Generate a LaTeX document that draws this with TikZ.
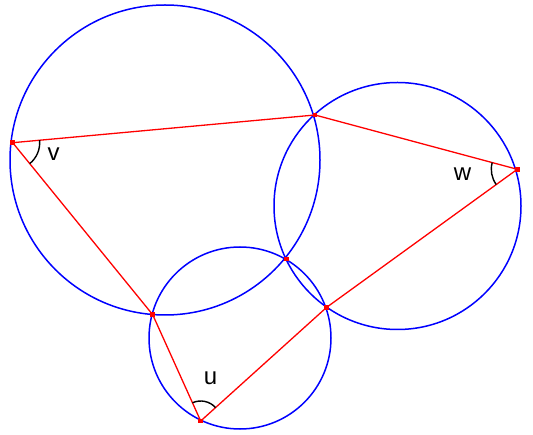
\documentclass[tikz,border=0pt]{standalone}
\usepackage{fontspec}
\setmainfont{Liberation Sans}
\usetikzlibrary{angles}

\begin{document}
\begin{tikzpicture}[x=1pt, y=1pt, line width=1.4pt,
    circ/.style={blue, line width=1.5pt},
    side/.style={red, line width=1.3pt},
    dot/.style={rectangle, fill=red, inner sep=0pt, minimum size=4.5pt},
    ang/.style={draw=black, line width=1.4pt},
    lbl/.style={font=\fontsize{24}{24}\selectfont, inner sep=0pt}]
  \useasboundingbox (0,0) rectangle (533,434);
  % points
  \coordinate (V) at (12.7,291.3);
  \coordinate (T) at (315,319);
  \coordinate (W) at (517.3,264.7);
  \coordinate (B) at (326.7,126.7);
  \coordinate (U) at (200.7,13);
  \coordinate (L) at (152.7,119.3);
  \coordinate (M) at (286.7,175);
  % circles
  \draw[circ] (165,274) circle (155);
  \draw[circ] (397.5,228) circle (123.5);
  \draw[circ] (240,96) circle (91);
  % sides
  \draw[side] (V) -- (T) -- (W) -- (B) -- (U) -- (L) -- cycle;
  \foreach \p in {V,T,W,B,U,L,M}
    \node[dot] (d\p) at (\p) {};
  % angles
  \pic[ang, angle radius=27pt] {angle = L--V--T};
  \pic[ang, angle radius=26pt] {angle = T--W--B};
  \pic[ang, angle radius=20pt] {angle = B--U--L};
  \node[lbl] (lv) at (53.5,279.5) {v};
  \node[lbl] (lw) at (462.5,260) {w};
  \node[lbl] (lu) at (210.5,55.5) {u};
\end{tikzpicture}
\end{document}
